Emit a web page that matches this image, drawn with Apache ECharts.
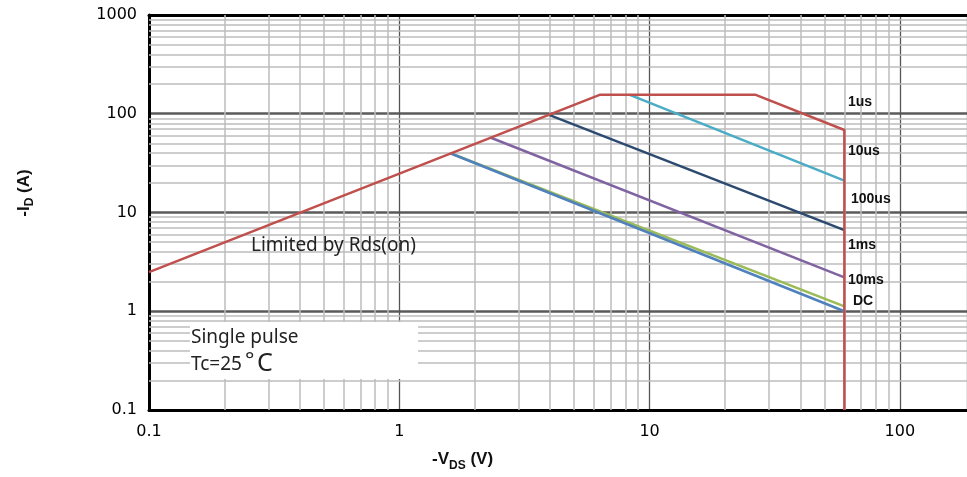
<!DOCTYPE html>
<html><head><meta charset="utf-8">
<script src="https://cdn.jsdelivr.net/npm/echarts@6/dist/echarts.min.js"></script>
<style>html,body{margin:0;padding:0;background:#fff}#c{width:967px;height:477px}</style>
</head><body><div id="c"></div>
<script>
// ---- data (V, A) ----
const limitLine = [[0.1, 2.49], [6.35, 156], [26.4, 156], [60, 68.5], [60, 0.1]]; // 1us boundary
const line10us = [[8.29, 156], [60, 21]];
const line100us = [[3.94, 98], [60, 6.63]];
const line1ms = [[2.31, 57.5], [60, 2.2]];
const line10ms = [[1.6, 39.8], [60, 1.12]];
const lineDC = [[1.6, 39.8], [60, 1.0]];
const seriesNames = ['1us', '10us', '100us', '1ms', '10ms', 'DC'];
const seriesColors = ['#C0504D', '#4BACC6', '#2C4A70', '#8064A2', '#9BBB59', '#4F81BD'];
const xTickLabels = ['0.1', '1', '10', '100'];
const yTickLabels = ['0.1', '1', '10', '100', '1000'];
const xMin = 0.1, xMax = 185.4, yMin = 0.1, yMax = 1000;
const decades = [0.1, 1, 10, 100];
const minorMult = [2, 3, 4, 5, 6, 7, 8, 9];

const gridLines = [];
decades.forEach(d => minorMult.forEach(m => {
  const v = +(d * m).toPrecision(3);
  if (v < xMax) gridLines.push({coords: [[v, yMin], [v, yMax]]});
  gridLines.push({coords: [[xMin, v], [xMax, v]]});
}));

const chart = echarts.init(document.getElementById('c'), null, {renderer: 'canvas'});
const tickFmt = arr => v => arr[Math.round(Math.log10(v)) + 1] || '';
const allData = [limitLine, line10us, line100us, line1ms, line10ms, lineDC];

const series = [{
  type: 'lines', coordinateSystem: 'cartesian2d', silent: true, z: 1, animation: false,
  lineStyle: {color: '#BDBDBD', width: 1.5, opacity: 1}, data: gridLines
}];
allData.forEach((d, i) => series.push({
  name: seriesNames[i], type: 'line', data: d, symbol: 'none', z: 3 + (i === 0 ? 5 : 0),
  lineStyle: {color: seriesColors[i], width: 2.5}, animation: false
}));

const lbl = (t, left, top) => ({type: 'text', left: left, top: top, z: 51,
  style: {text: t, font: 'bold 14px "Liberation Sans"', fill: '#111'}});
const sub = {a: {fontSize: 17, fontWeight: 'bold', fontFamily: 'Liberation Sans', lineHeight: 24, verticalAlign: 'middle'},
             b: {fontSize: 12, fontWeight: 'bold', fontFamily: 'Liberation Sans', lineHeight: 24, verticalAlign: 'bottom'}};

chart.setOption({
  animation: false,
  grid: {left: 149, top: 15, right: 0, height: 395, containLabel: false},
  xAxis: [{
    type: 'log', logBase: 10, min: xMin, max: xMax,
    axisLine: {show: true, onZero: false, lineStyle: {color: '#000', width: 3}},
    axisTick: {show: false},
    axisLabel: {formatter: tickFmt(xTickLabels), showMaxLabel: false, fontFamily: 'DejaVu Sans', fontSize: 16, color: '#000', margin: 14},
    splitLine: {show: true, lineStyle: {color: '#555', width: 1.3}}
  }, {
    type: 'log', logBase: 10, min: xMin, max: xMax, position: 'top',
    axisLine: {show: true, lineStyle: {color: '#000', width: 3}},
    axisTick: {show: false}, axisLabel: {show: false}, splitLine: {show: false}
  }],
  yAxis: {
    type: 'log', logBase: 10, min: yMin, max: yMax,
    axisLine: {show: true, onZero: false, lineStyle: {color: '#000', width: 3}},
    axisTick: {show: false},
    axisLabel: {formatter: tickFmt(yTickLabels), fontFamily: 'DejaVu Sans', fontSize: 16, color: '#000', margin: 12},
    splitLine: {show: true, lineStyle: {color: '#5a5a5a', width: 2.5}}
  },
  series: series,
  graphic: [
    {type: 'rect', left: 190, top: 322, shape: {width: 228, height: 57}, style: {fill: '#fff'}, z: 50},
    {type: 'text', left: 191, top: 328, z: 51, style: {text: 'Single pulse', font: '19px "Noto Sans"', fill: '#222'}},
    {type: 'text', left: 191, top: 355, z: 51, style: {text: 'Tc=25', font: '19px "Noto Sans"', fill: '#222'}},
    {type: 'text', left: 245, top: 350, z: 51, style: {text: '°', font: '22px "Noto Sans"', fill: '#222'}},
    {type: 'text', left: 257, top: 351, z: 51, style: {text: 'C', font: '25px "Noto Sans"', fill: '#222'}},
    {type: 'text', left: 251, top: 236, z: 51, style: {text: 'Limited by Rds(on)', font: '19px "Noto Sans"', fill: '#222'}},
    lbl('1us', 848, 95), lbl('10us', 848, 144), lbl('100us', 851, 192),
    lbl('1ms', 848, 238), lbl('10ms', 848, 273), lbl('DC', 853, 294),
    {type: 'text', left: 432, top: 451, z: 51, style: {text: '{a|-V}{b|DS}{a| (V)}', fill: '#111', rich: sub}},
    {type: 'text', x: 24, y: 193, rotation: Math.PI / 2, z: 51, style: {text: '{a|-I}{b|D}{a| (A)}', fill: '#111',
      align: 'center', verticalAlign: 'middle', textAlign: 'center', textVerticalAlign: 'middle', rich: sub}}
  ]
});
</script></body></html>
